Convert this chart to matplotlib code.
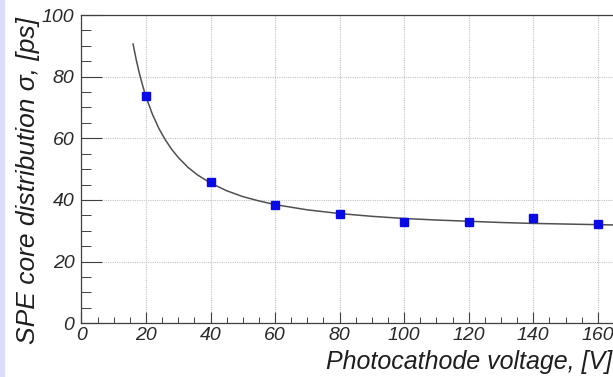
import numpy as np
import matplotlib
matplotlib.use('Agg')
import matplotlib.pyplot as plt
from matplotlib.ticker import MultipleLocator
from matplotlib.patches import Rectangle

# measured points
voltage = [20, 40, 60, 80, 100, 120, 140, 160]
sigma = [73.8, 45.9, 38.4, 35.5, 32.7, 32.9, 34.1, 32.2]

# fitted curve
fit_x = [16, 17, 18, 19, 20, 22, 24, 26, 28, 30, 33, 36, 40, 45, 50, 55, 60,
         70, 80, 90, 100, 110, 120, 130, 140, 150, 160, 165]
fit_y = [90.6, 85.4, 80.9, 77.0, 73.5, 67.8, 63.2, 59.5, 56.4, 53.8, 50.6, 48.1,
         45.5, 43.0, 41.1, 39.7, 38.5, 36.8, 35.6, 34.7, 34.0, 33.5, 33.1, 32.7,
         32.4, 32.2, 32.0, 31.9]

plt.rcParams['font.family'] = ['Liberation Sans', 'DejaVu Sans']

fig = plt.figure(figsize=(6.13, 3.77), dpi=100)
ax = fig.add_axes([0.1328, 0.1424, 0.8672, 0.8178])

ax.plot(fit_x, fit_y, color='#505050', linewidth=1.1, zorder=2)
ax.plot(voltage, sigma, 's', color='#0a0ae6', markersize=6, zorder=3)

ax.set_xlim(0, 164.7)
ax.set_ylim(0, 100)
ax.xaxis.set_major_locator(MultipleLocator(20))
ax.xaxis.set_minor_locator(MultipleLocator(5))
ax.yaxis.set_major_locator(MultipleLocator(20))
ax.yaxis.set_minor_locator(MultipleLocator(5))

ax.grid(True, which='major', color='#c4c4c4', linestyle=(0, (1, 1)), linewidth=0.8)
ax.set_axisbelow(True)

ax.tick_params(axis='both', which='major', direction='in', color='#404040')
ax.tick_params(axis='x', which='major', length=8, width=0.8)
ax.tick_params(axis='x', which='minor', direction='in', length=4, width=0.7, color='#404040')
ax.tick_params(axis='y', which='major', length=15, width=0.8)
ax.tick_params(axis='y', which='minor', direction='in', length=7, width=0.7, color='#404040')
ax.tick_params(axis='x', labelsize=14, pad=3, labelcolor='#2a2a2a')
ax.tick_params(axis='y', labelsize=14, pad=5, labelcolor='#2a2a2a')
for lab in ax.get_xticklabels() + ax.get_yticklabels():
    lab.set_fontstyle('italic')

for side in ['left', 'bottom', 'top']:
    ax.spines[side].set_color('#404040')
    ax.spines[side].set_linewidth(0.9)
ax.spines['right'].set_visible(False)

ax.set_xlabel('Photocathode voltage, [V]', fontsize=18, style='italic',
              color='#1e1e1e', loc='right')
ax.set_ylabel('SPE core distribution σ, [ps]', fontsize=19, style='italic',
              color='#1e1e1e', loc='top')
ax.xaxis.set_label_coords(0.998, -0.085)
ax.yaxis.set_label_coords(-0.078, 0.995)

# thin lavender strip at the left edge of the picture
fig.patches.append(Rectangle((0, 0), 0.006, 1, transform=fig.transFigure,
                             color='#dcdcff', zorder=0))

fig.savefig('out.png', dpi=100)
